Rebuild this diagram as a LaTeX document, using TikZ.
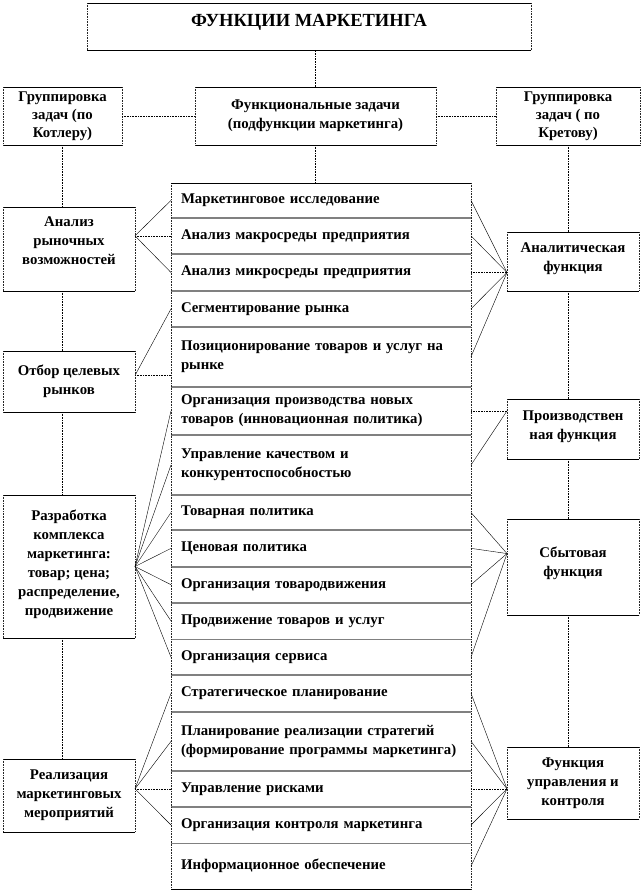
\documentclass[tikz,border=0pt]{standalone}
\usepackage{fontspec}
\setmainfont{Liberation Serif}
\usetikzlibrary{positioning,calc}
\tikzset{hedge/.style={draw=black, line width=0.6pt}, vedge/.style={draw=black!85, line width=0.6pt, densely dotted}, box/.style={fill=white, align=center, anchor=north west, inner sep=2pt, outer sep=0pt, append after command={(\tikzlastnode.north west) edge[hedge] (\tikzlastnode.north east) (\tikzlastnode.south west) edge[hedge] (\tikzlastnode.south east) (\tikzlastnode.north west) edge[vedge] (\tikzlastnode.south west) (\tikzlastnode.north east) edge[vedge] (\tikzlastnode.south east)}}, rowbox/.style={anchor=north west, align=left, text width=280pt, inner xsep=10pt, inner ysep=2pt, outer sep=0pt}, sep/.style={draw=gray, line width=1.6pt}, link/.style={draw=black, line width=0.4pt}, trunk/.style={draw=black, line width=0.6pt, densely dotted}}

\begin{document}
\begin{tikzpicture}[x=1pt, y=-1pt, every node/.style={font=\bfseries\fontsize{14.8}{19}\selectfont}]
\useasboundingbox (0,0) rectangle (642,894);
\fill[white] (0,0) rectangle (642,894);
% top level
\node[box, minimum width=444pt, minimum height=47pt, text depth=12pt, font=\bfseries\fontsize{18.5}{22}\selectfont] (title) at (87,3) {ФУНКЦИИ МАРКЕТИНГА};
\node[box, minimum width=119pt, minimum height=58pt, font=\bfseries\fontsize{14.8}{18}\selectfont] (grpK) at (3,87) {Группировка\\задач (по\\Котлеру)};
\node[box, minimum width=241pt, minimum height=58pt] (func) at (195,87) {Функциональные задачи\\(подфункции маркетинга)};
\node[box, minimum width=144pt, minimum height=58pt, font=\bfseries\fontsize{14.8}{18}\selectfont] (grpR) at (496,87) {Группировка\\задач ( по\\Кретову)};
% middle column
\node[rowbox, minimum height=34.7pt] (r1) at (171,183) {Маркетинговое исследование};
\node[rowbox, minimum height=36.3pt, below=0pt of r1] (r2) {Анализ макросреды предприятия};
\node[rowbox, minimum height=37pt, below=0pt of r2] (r3) {Анализ микросреды предприятия};
\node[rowbox, minimum height=35.7pt, below=0pt of r3] (r4) {Сегментирование рынка};
\node[rowbox, minimum height=60pt, below=0pt of r4] (r5) {Позиционирование товаров и услуг на\\рынке};
\node[rowbox, minimum height=48.3pt, below=0pt of r5] (r6) {Организация производства новых\\товаров (инновационная политика)};
\node[rowbox, minimum height=60pt, below=0pt of r6] (r7) {Управление качеством и\\конкурентоспособностью};
\node[rowbox, minimum height=35pt, below=0pt of r7] (r8) {Товарная политика};
\node[rowbox, minimum height=36.7pt, below=0pt of r8] (r9) {Ценовая политика};
\node[rowbox, minimum height=36pt, below=0pt of r9] (r10) {Организация товародвижения};
\node[rowbox, minimum height=36.6pt, below=0pt of r10] (r11) {Продвижение товаров и услуг};
\node[rowbox, minimum height=35.7pt, below=0pt of r11] (r12) {Организация сервиса};
\node[rowbox, minimum height=36.7pt, below=0pt of r12] (r13) {Стратегическое планирование};
\node[rowbox, minimum height=59.3pt, below=0pt of r13] (r14) {Планирование реализации стратегий\\(формирование программы маркетинга)};
\node[rowbox, minimum height=35.7pt, below=0pt of r14] (r15) {Управление рисками};
\node[rowbox, minimum height=36.6pt, below=0pt of r15] (r16) {Организация контроля маркетинга};
\node[rowbox, minimum height=45.7pt, below=0pt of r16] (r17) {Информационное обеспечение};
\foreach \r in {1,...,16} \draw[sep] (r\r.south west) -- (r\r.south east);
\draw[vedge] (r1.north west) -- (r17.south west);
\draw[vedge] (r1.north east) -- (r17.south east);
\draw[hedge] (r1.north west) -- (r1.north east);
\draw[hedge] (r17.south west) -- (r17.south east);
% left boxes (Kotler)
\node[box, minimum width=132pt, minimum height=84pt, text depth=16pt] (anal) at (3,207) {Анализ\\рыночных\\возможностей};
\node[box, minimum width=132pt, minimum height=61pt] (otb) at (3,351) {Отбор целевых\\рынков};
\node[box, minimum width=132pt, minimum height=143pt, text depth=8pt] (razr) at (3,495) {Разработка\\комплекса\\маркетинга:\\товар; цена;\\распределение,\\продвижение};
\node[box, minimum width=132pt, minimum height=73pt] (real) at (3,759) {Реализация\\маркетинговых\\мероприятий};
% right boxes (Kretov)
\node[box, minimum width=132pt, minimum height=59pt, text depth=8pt] (anf) at (507,232) {Аналитическая\\функция};
\node[box, minimum width=132pt, minimum height=60pt, text depth=8pt] (prf) at (507,399) {Производствен\\ная функция};
\node[box, minimum width=132pt, minimum height=96pt, text depth=10pt] (sbf) at (507,519) {Сбытовая\\функция};
\node[box, minimum width=132pt, minimum height=72pt] (fuf) at (507,747) {Функция\\управления и\\контроля};
% trunk lines
\draw[trunk] (func.north) -- (func.north |- title.south);
\draw[trunk] (func.south) -- (func.south |- r1.north);
\draw[trunk] (grpK.east) -- (func.west);
\draw[trunk] (func.east) -- (grpR.west);
\draw[trunk] (grpK.south) -- (grpK.south |- anal.north);
\draw[trunk] (grpK.south |- anal.south) -- (grpK.south |- otb.north);
\draw[trunk] (grpK.south |- otb.south) -- (grpK.south |- razr.north);
\draw[trunk] (grpK.south |- razr.south) -- (grpK.south |- real.north);
\draw[trunk] (grpR.south) -- (grpR.south |- anf.north);
\draw[trunk] (grpR.south |- anf.south) -- (grpR.south |- prf.north);
\draw[trunk] (grpR.south |- prf.south) -- (grpR.south |- sbf.north);
\draw[trunk] (grpR.south |- sbf.south) -- (grpR.south |- fuf.north);
% left fans
\coordinate (pA) at (anal.east |- r2.west);
\draw[link] (pA) -- (r1.west);
\draw[trunk] (pA) -- (r2.west);
\draw[link] (pA) -- (r3.west);
\coordinate (pB) at ($(otb.north east)!0.4!(otb.south east)$);
\draw[link] (pB) -- (r4.west);
\draw[trunk] (pB) -- (pB -| r5.west);
\foreach \r in {6,...,12} \draw[link] (razr.east) -- (r\r.west);
\coordinate (pD) at (real.east |- r15.west);
\draw[link] (pD) -- (r13.west);
\draw[link] (pD) -- (r14.west);
\draw[trunk] (pD) -- (r15.west);
\draw[link] (pD) -- (r16.west);
% right fans
\coordinate (qA) at (anf.west |- r3.east);
\draw[link] (qA) -- (r1.east);
\draw[link] (qA) -- (r2.east);
\draw[trunk] (qA) -- (r3.east);
\draw[link] (qA) -- (r4.east);
\draw[link] (qA) -- (r5.east);
\coordinate (qB) at (prf.west |- r6.east);
\draw[trunk] (qB) -- (r6.east);
\draw[link] (qB) -- (r7.east);
\coordinate (qC) at ($(sbf.north west)!0.36!(sbf.south west)$);
\foreach \r in {8,9,10,12} \draw[link] (qC) -- (r\r.east);
\coordinate (qD) at (fuf.west |- r15.east);
\draw[link] (qD) -- (r13.east);
\draw[link] (qD) -- (r14.east);
\draw[trunk] (qD) -- (r15.east);
\draw[link] (qD) -- (r16.east);
\draw[link] (qD) -- (r17.east);
\end{tikzpicture}
\end{document}
